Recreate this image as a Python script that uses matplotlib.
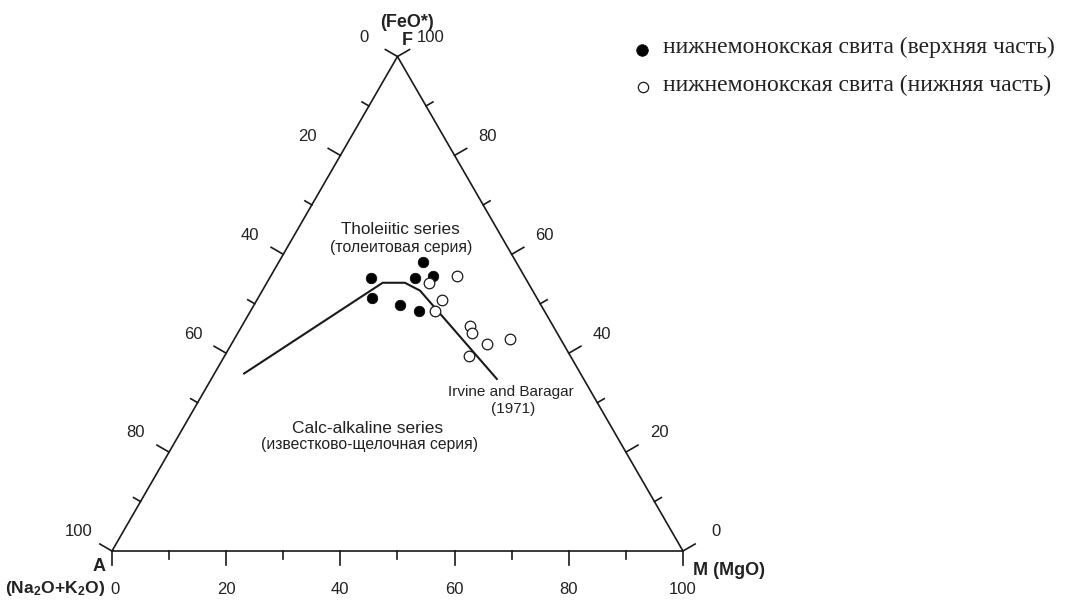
import numpy as np
import matplotlib
matplotlib.use("Agg")
import matplotlib.pyplot as plt

plt.rcParams["mathtext.fontset"] = "custom"
plt.rcParams["mathtext.rm"] = "Liberation Sans"
plt.rcParams["mathtext.bf"] = "Liberation Sans:bold"

# AFM ternary diagram: A = Na2O+K2O, F = FeO*, M = MgO (wt. %)
upper_A = [27.1, 28.9, 24.7, 22.0, 19.3, 16.3, 15.9]
upper_F = [55.3, 51.2, 49.8, 48.5, 55.3, 58.4, 55.6]
upper_M = [17.7, 19.9, 25.6, 29.5, 25.5, 25.3, 28.5]

lower_A = [17.4, 11.7, 16.8, 19.1, 14.6, 15.0, 13.4, 8.8, 17.8]
lower_F = [54.1, 55.6, 50.8, 48.5, 45.5, 44.0, 41.9, 42.9, 39.5]
lower_M = [28.5, 32.7, 32.5, 32.4, 40.0, 41.0, 44.7, 48.4, 42.7]

# Irvine & Baragar (1971) tholeiitic / calc-alkaline boundary
ib_A = [58.9, 25.5, 21.6, 19.7, 15.2]
ib_F = [35.9, 54.3, 54.3, 52.6, 34.8]
ib_M = [5.2, 20.3, 24.2, 27.6, 50.0]

tick_values = list(range(0, 101, 10))
label_values = [0, 20, 40, 60, 80, 100]

legend_labels = ["нижнемонокская свита (верхняя часть)",
                 "нижнемонокская свита (нижняя часть)"]

SQ3 = np.sqrt(3) / 2


def tern(a, f, m):
    a, f, m = (np.asarray(v, dtype=float) for v in (a, f, m))
    tot = a + f + m
    f = f / tot * 100
    m = m / tot * 100
    return m + f / 2, f * SQ3


fig = plt.figure(figsize=(10.68, 6.02), dpi=100)
ax = fig.add_axes([0, 0, 1, 1])
ax.set_xlim(-19.61, 167.43)
ax.set_ylim(-8.93, 96.50)
ax.axis("off")

ink = "#1a1a1a"
txt = "#222222"
sans = "Liberation Sans"

A = np.array([0.0, 0.0])
M = np.array([100.0, 0.0])
F = np.array([50.0, 100 * SQ3])
ax.plot([A[0], M[0], F[0], A[0]], [A[1], M[1], F[1], A[1]],
        color=ink, lw=1.2, solid_joinstyle="miter", zorder=2)

# edge ticks: (start, end, outward normal)
edges = [
    (F, A, np.array([-SQ3, 0.5])),   # A scale, 0 at F -> 100 at A
    (M, F, np.array([SQ3, 0.5])),    # F scale, 0 at M -> 100 at F
    (A, M, np.array([0.0, -1.0])),   # M scale, 0 at A -> 100 at M
]
for k, (p0, p1, nrm) in enumerate(edges):
    for t in tick_values:
        p = p0 + t / 100 * (p1 - p0)
        ln = 2.45 if t % 20 == 0 else 1.4
        q = p + ln * nrm
        ax.plot([p[0], q[0]], [p[1], q[1]], color=ink, lw=1.2, zorder=2)
    for t in label_values:
        p = p0 + t / 100 * (p1 - p0) + 6.7 * nrm
        if k == 2 and t == 0:
            p = p + np.array([0.5, 0.0])
        ax.text(p[0], p[1], str(t), ha="center", va="center",
                fontsize=12, family=sans, color=txt)

# vertex names
ax.text(51.66, 92.64, "(FeO*)", ha="center", va="center",
        fontsize=13, fontweight="bold", family=sans, color=txt)
ax.text(51.66, 89.49, "F", ha="center", va="center",
        fontsize=13, fontweight="bold", family=sans, color=txt)
ax.text(-2.28, -2.8, "A", ha="center", va="center",
        fontsize=13, fontweight="bold", family=sans, color=txt)
ax.text(-1.25, -6.6, r"$\mathbf{(Na_2O{+}K_2O)}$", ha="right", va="center",
        fontsize=12.6, family=sans, color=txt)
ax.text(101.75, -3.33, "M (MgO)", ha="left", va="center",
        fontsize=13, fontweight="bold", family=sans, color=txt)

# field names
ax.text(50.44, 56.22, "Tholeiitic series", ha="center", va="center",
        fontsize=12.3, family=sans, color=txt)
ax.text(50.61, 53.24, "(толеитовая серия)", ha="center", va="center",
        fontsize=11.4, family=sans, color=txt)
ax.text(44.83, 21.54, "Calc-alkaline series", ha="center", va="center",
        fontsize=12.5, family=sans, color=txt)
ax.text(45.18, 18.74, "(известково-щелочная серия)", ha="center", va="center",
        fontsize=11.3, family=sans, color=txt)
ax.text(69.88, 27.85, "Irvine and Baragar", ha="center", va="center",
        fontsize=11, family=sans, color=txt)
ax.text(70.23, 24.87, "(1971)", ha="center", va="center",
        fontsize=11, family=sans, color=txt)

# boundary line
bx, by = tern(ib_A, ib_F, ib_M)
ax.plot(bx, by, color=ink, lw=1.5, zorder=3)

# samples
ux, uy = tern(upper_A, upper_F, upper_M)
lx, ly = tern(lower_A, lower_F, lower_M)
ax.scatter(ux, uy, s=58, facecolor="black", edgecolor="black", lw=0.5, zorder=4)
ax.scatter(lx, ly, s=58, facecolor="white", edgecolor=ink, lw=0.9, zorder=4)

# legend
ax.scatter([92.82], [87.74], s=70, facecolor="black", edgecolor="black", lw=0.5)
ax.scatter([92.99], [81.26], s=55, facecolor="white", edgecolor=ink, lw=0.9)
ax.text(96.5, 88.27, legend_labels[0], ha="left", va="center",
        fontsize=17, family="Liberation Serif", color=txt)
ax.text(96.5, 81.61, legend_labels[1], ha="left", va="center",
        fontsize=17, family="Liberation Serif", color=txt)

fig.savefig("out.png", dpi=100)
